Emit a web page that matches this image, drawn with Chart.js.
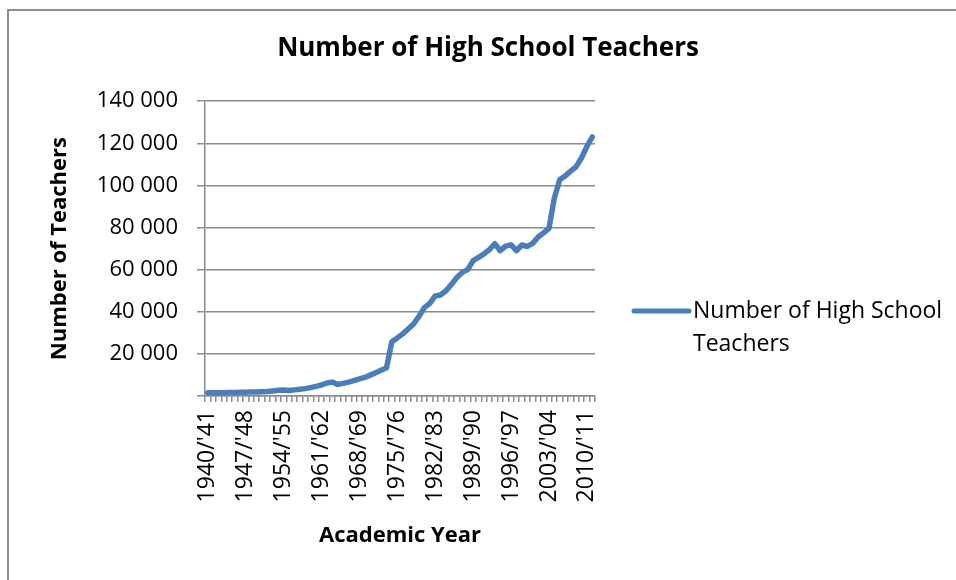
<!DOCTYPE html>
<html>
<head>
<meta charset="utf-8">
<script src="https://cdn.jsdelivr.net/npm/chart.js@4"></script>
<style>
  html, body { margin: 0; padding: 0; background: #fff; }
  #wrap { position: relative; width: 956px; height: 580px; overflow: hidden; }
  #frame { position: absolute; left: 7px; top: 9px; width: 1000px; height: 700px;
           border-left: 2px solid #8c8c8c; border-top: 2px solid #8c8c8c; }
  canvas { position: absolute; left: 0; top: 0; }
</style>
</head>
<body>
<div id="wrap">
  <div id="frame"></div>
  <canvas id="myChart" width="956" height="580"></canvas>
</div>
<script>
const anosLetivos = [
  "1940/'41", "1941/'42", "1942/'43", "1943/'44", "1944/'45", "1945/'46", "1946/'47", "1947/'48",
  "1948/'49", "1949/'50", "1950/'51", "1951/'52", "1952/'53", "1953/'54", "1954/'55", "1955/'56",
  "1956/'57", "1957/'58", "1958/'59", "1959/'60", "1960/'61", "1961/'62", "1962/'63", "1963/'64",
  "1964/'65", "1965/'66", "1966/'67", "1967/'68", "1968/'69", "1969/'70", "1970/'71", "1971/'72",
  "1972/'73", "1973/'74", "1974/'75", "1975/'76", "1976/'77", "1977/'78", "1978/'79", "1979/'80",
  "1980/'81", "1981/'82", "1982/'83", "1983/'84", "1984/'85", "1985/'86", "1986/'87", "1987/'88",
  "1988/'89", "1989/'90", "1990/'91", "1991/'92", "1992/'93", "1993/'94", "1994/'95", "1995/'96",
  "1996/'97", "1997/'98", "1998/'99", "1999/'00", "2000/'01", "2001/'02", "2002/'03", "2003/'04",
  "2004/'05", "2005/'06", "2006/'07", "2007/'08", "2008/'09", "2009/'10", "2010/'11", "2011/'12"
];

// numero de professores (aproximado)
const professores = [
  1500, 1500, 1600, 1600, 1700, 1700, 1800, 1800, 1900, 1900, 2000, 2100,
  2400, 2700, 2800, 2600, 2900, 3200, 3500, 4000, 4600, 5200, 6200, 6600,
  5500, 6000, 6600, 7300, 8100, 8800, 9900, 11000, 12200, 13300, 25800, 27600,
  29500, 31800, 34200, 37800, 42000, 44000, 47500, 48000, 50000, 53000, 56300, 58700,
  60000, 64300, 65800, 67500, 69500, 72300, 69000, 71200, 71800, 69000, 71700, 71000,
  72500, 75500, 77500, 79600, 94000, 102800, 104500, 106800, 108800, 113000, 118500, 123000
];

// rotulos mostrados no eixo X
const rotulosEixoX = ["1940/'41", "1947/'48", "1954/'55", "1961/'62", "1968/'69", "1975/'76",
  "1982/'83", "1989/'90", "1996/'97", "2003/'04", "2010/'11"];
const ticksEixoY = [0, 20000, 40000, 60000, 80000, 100000, 120000, 140000];

const fonte = "'Open Sans', 'Liberation Sans', sans-serif";
const cinza = '#8c8c8c';
const azul = '#4a7ebb';

// legenda desenhada a mao (texto em duas linhas)
const legendaPlugin = {
  id: 'legendaDireita',
  afterDraw(chart) {
    const c = chart.ctx;
    const ds = chart.data.datasets[0];
    const x0 = chart.chartArea.right + 39;
    const y0 = 311;
    c.save();
    c.strokeStyle = ds.borderColor;
    c.lineWidth = 5;
    c.lineCap = 'round';
    c.beginPath();
    c.moveTo(x0, y0);
    c.lineTo(x0 + 55, y0);
    c.stroke();
    c.fillStyle = '#000';
    c.font = '23px ' + fonte;
    c.textBaseline = 'middle';
    c.fillText('Number of High School', x0 + 59, y0);
    c.fillText('Teachers', x0 + 59, y0 + 33);
    c.restore();
  }
};

const ctx = document.getElementById('myChart');

new Chart(ctx, {
  type: 'line',
  data: {
    labels: anosLetivos,
    datasets: [{
      label: 'Number of High School Teachers',
      data: professores,
      borderColor: azul,
      backgroundColor: azul,
      borderWidth: 5.5,
      pointRadius: 0,
      tension: 0,
      borderCapStyle: 'round',
      borderJoinStyle: 'round'
    }]
  },
  options: {
    responsive: false,
    animation: false,
    layout: {
      padding: { left: 20, right: 0, top: 0, bottom: 0 }
    },
    scales: {
      x: {
        offset: true,
        afterFit: (s) => { s.height = 184; },
        grid: {
          offset: true,
          drawOnChartArea: false,
          drawTicks: true,
          tickLength: 6,
          color: cinza,
          lineWidth: 1.5
        },
        border: { color: cinza, width: 1.5 },
        ticks: {
          autoSkip: false,
          minRotation: 90,
          maxRotation: 90,
          padding: 8,
          color: '#000',
          font: { family: fonte, size: 23 },
          callback: function(value, index) {
            const r = anosLetivos[index];
            return rotulosEixoX.includes(r) ? r : '';
          }
        },
        title: {
          display: true,
          text: 'Academic Year',
          color: '#000',
          font: { family: fonte, size: 22, weight: 'bold' },
          padding: { top: 0, bottom: 31 }
        }
      },
      y: {
        min: 0,
        max: 140000,
        afterFit: (s) => { s.width = 185; },
        afterBuildTicks: (s) => { s.ticks = ticksEixoY.map(v => ({ value: v })); },
        grid: {
          color: cinza,
          lineWidth: 1.5,
          tickLength: 8
        },
        border: { color: cinza, width: 1.5 },
        ticks: {
          padding: 19,
          color: '#000',
          font: { family: fonte, size: 22 },
          callback: function(value) {
            if (value === 0) return '';
            return String(value).replace(/\B(?=(\d{3})+(?!\d))/g, ' ');
          }
        },
        title: {
          display: true,
          text: 'Number of Teachers',
          color: '#000',
          font: { family: fonte, size: 22, weight: 'bold' },
          padding: { top: 27, bottom: 0 }
        }
      },
      // eixo vazio a direita: reserva o espaco da legenda
      espacoLegenda: {
        type: 'linear',
        position: 'right',
        display: true,
        afterFit: (s) => { s.width = 361; },
        grid: { display: false },
        border: { display: false },
        ticks: { display: false }
      }
    },
    plugins: {
      legend: { display: false },
      tooltip: { enabled: false },
      title: {
        display: true,
        text: 'Number of High School Teachers',
        color: '#000',
        font: { family: fonte, size: 26, weight: 'bold' },
        padding: { top: 33, bottom: 37 }
      }
    }
  },
  plugins: [legendaPlugin]
});
</script>
</body>
</html>
